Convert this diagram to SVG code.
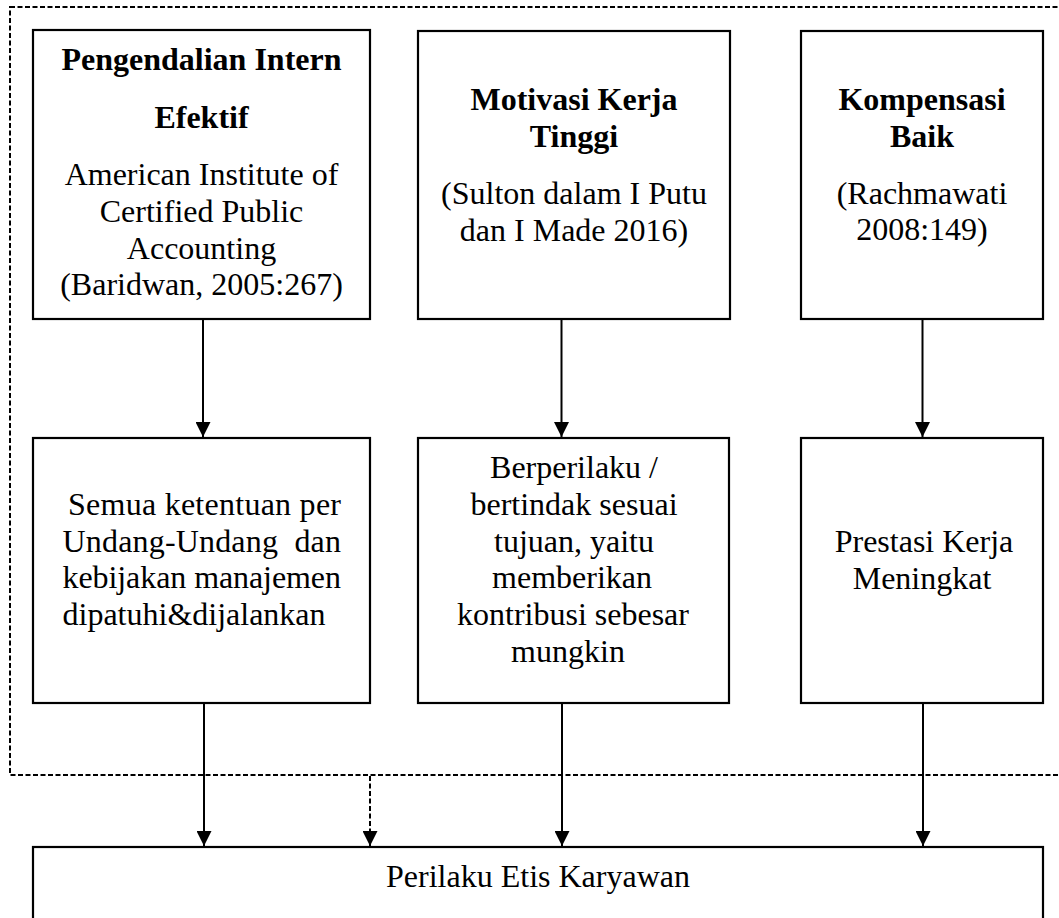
<svg xmlns="http://www.w3.org/2000/svg" width="1059" height="918" viewBox="0 0 1059 918">
<style>
.box{fill:#fff;stroke:#000;stroke-width:2.2}
.dash{fill:none;stroke:#000;stroke-width:2;stroke-dasharray:5,2.5}
.t{font-family:"Liberation Serif","Times New Roman",serif;font-size:32px;fill:#000}
.b{font-weight:bold}
.c{text-anchor:middle}
.arr{stroke:#000;stroke-width:2;fill:none;marker-end:url(#ah)}
.arrd{stroke:#000;stroke-width:2;fill:none;stroke-dasharray:5,2.5;marker-end:url(#ah)}
</style>
<defs>
<marker id="ah" viewBox="0 0 15 15" markerWidth="15" markerHeight="15" markerUnits="userSpaceOnUse" refX="15" refY="7.5" orient="auto">
<path d="M0,0 L15,7.5 L0,15 z" fill="#000"/>
</marker>
</defs>
<rect width="1059" height="918" fill="#fff"/>
<g id="group-boundary">
<rect class="dash" x="10" y="7" width="1070" height="768"/>
</g>
<g id="node-pengendalian">
<rect class="box" x="33" y="30" width="337" height="289"/>
<text class="t b c" x="201.5" y="70">Pengendalian Intern</text>
<text class="t b c" x="201.5" y="128">Efektif</text>
<text class="t c" x="201.5" y="185">American Institute of</text>
<text class="t c" x="201.5" y="222">Certified Public</text>
<text class="t c" x="201.5" y="259">Accounting</text>
<text class="t c" x="201.5" y="295">(Baridwan, 2005:267)</text>
</g>
<g id="node-motivasi">
<rect class="box" x="418" y="31" width="312" height="288"/>
<text class="t b c" x="574" y="110">Motivasi Kerja</text>
<text class="t b c" x="574" y="147">Tinggi</text>
<text class="t c" x="574" y="204">(Sulton dalam I Putu</text>
<text class="t c" x="574" y="241">dan I Made 2016)</text>
</g>
<g id="node-kompensasi">
<rect class="box" x="801" y="31" width="242" height="288"/>
<text class="t b c" x="922" y="110">Kompensasi</text>
<text class="t b c" x="922" y="147">Baik</text>
<text class="t c" x="922" y="204">(Rachmawati</text>
<text class="t c" x="922" y="240">2008:149)</text>
</g>
<g id="node-ketentuan">
<rect class="box" x="33" y="438" width="337" height="265"/>
<text class="t" x="68" y="515" textLength="273" lengthAdjust="spacing">Semua ketentuan per</text>
<text class="t" x="62.5" y="552" textLength="278.5" lengthAdjust="spacing" xml:space="preserve">Undang-Undang  dan</text>
<text class="t" x="62.5" y="588" textLength="278.5" lengthAdjust="spacing">kebijakan manajemen</text>
<text class="t" x="62.5" y="625">dipatuhi&amp;dijalankan</text>
</g>
<g id="node-berperilaku">
<rect class="box" x="418" y="438" width="311" height="265"/>
<text class="t c" x="574" y="478">Berperilaku /</text>
<text class="t c" x="574" y="515">bertindak sesuai</text>
<text class="t c" x="574" y="552">tujuan, yaitu</text>
<text class="t c" x="572" y="588">memberikan</text>
<text class="t c" x="573" y="625">kontribusi sebesar</text>
<text class="t c" x="568" y="662">mungkin</text>
</g>
<g id="node-prestasi">
<rect class="box" x="801" y="438" width="242" height="265"/>
<text class="t c" x="924" y="552">Prestasi Kerja</text>
<text class="t c" x="922" y="589">Meningkat</text>
</g>
<g id="node-perilaku-etis">
<rect class="box" x="33" y="847" width="1010" height="80"/>
<text class="t c" x="538" y="887">Perilaku Etis Karyawan</text>
</g>
<g id="connectors">
<line class="arr" x1="203" y1="320" x2="203" y2="437"/>
<line class="arr" x1="561.5" y1="320" x2="561.5" y2="437"/>
<line class="arr" x1="922.5" y1="320" x2="922.5" y2="437"/>
<line class="arr" x1="204" y1="704" x2="204" y2="846"/>
<line class="arr" x1="562" y1="704" x2="562" y2="846"/>
<line class="arr" x1="923" y1="704" x2="923" y2="846"/>
<line class="arrd" x1="370" y1="776" x2="370" y2="846"/>
</g>
</svg>
